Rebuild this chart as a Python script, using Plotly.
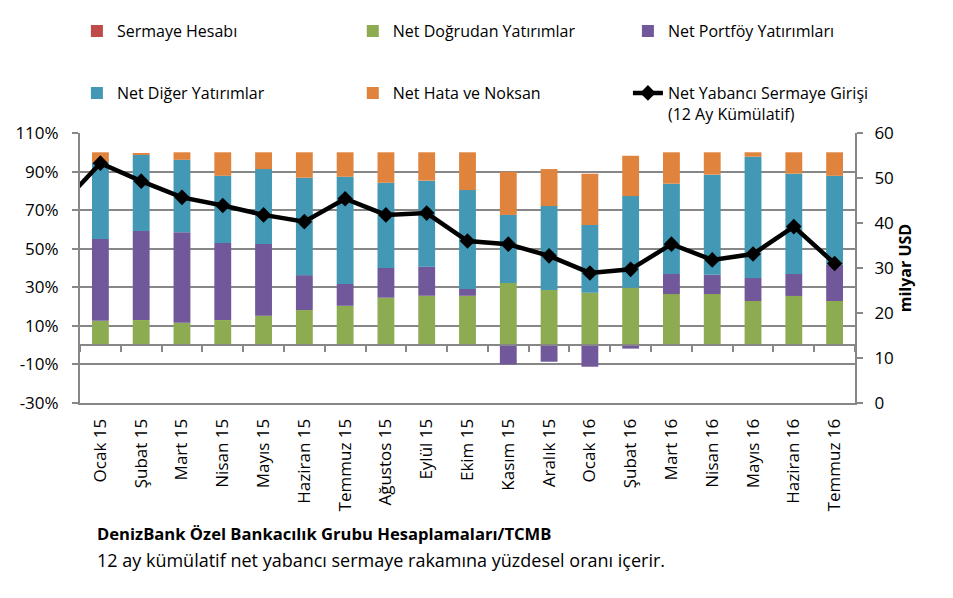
import plotly.graph_objects as go

# ---- data ----
categories = ["Ocak 15", "Şubat 15", "Mart 15", "Nisan 15", "Mayıs 15", "Haziran 15",
              "Temmuz 15", "Ağustos 15", "Eylül 15", "Ekim 15", "Kasım 15", "Aralık 15",
              "Ocak 16", "Şubat 16", "Mart 16", "Nisan 16", "Mayıs 16", "Haziran 16",
              "Temmuz 16"]
# stacked shares (%)
sermaye_hesabi = [0, 0, 0, 0, 0, 0, 0, 0, 0, 0, 0, 0, 0, 0, 0, 0, 0, 0, 0]
net_dogrudan = [12.6, 13.0, 11.6, 13.0, 15.3, 18.2, 20.4, 24.6, 25.6, 25.6,
                32.2, 28.6, 27.2, 29.8, 26.5, 26.5, 22.9, 25.5, 22.9]
net_portfoy = [42.4, 46.2, 47.0, 39.9, 37.1, 18.1, 11.3, 15.4, 15.1, 3.5,
               -10.0, -8.6, -11.2, -1.8, 10.4, 10.0, 11.9, 11.4, 18.8]
net_diger = [39.8, 39.4, 37.5, 34.9, 38.9, 50.5, 55.6, 44.2, 44.6, 51.3,
             35.3, 43.5, 35.1, 47.5, 46.8, 51.9, 62.9, 52.0, 46.1]
net_hata = [5.2, 1.0, 3.9, 12.2, 8.7, 13.2, 12.7, 15.8, 14.7, 19.6,
            22.4, 19.2, 26.6, 20.9, 16.3, 11.6, 2.3, 11.1, 12.2]
# 12 month cumulative net foreign capital inflow (billion USD)
net_giris = [53.3, 49.3, 45.7, 43.9, 41.8, 40.3, 45.4, 41.8, 42.2, 36.0,
             35.3, 32.7, 28.9, 29.7, 35.3, 31.8, 33.1, 39.2, 31.0]
# previous month (Aralık 14), only its segment entering the left edge is visible
net_giris_prev = 43.6

y_ticks = [-30, -10, 10, 30, 50, 70, 90, 110]
y_tick_text = ["-30%", "-10%", "10%", "30%", "50%", "70%", "90%", "110%"]
y2_ticks = [0, 10, 20, 30, 40, 50, 60]

FONT = "'Open Sans', Calibri, 'Liberation Sans', sans-serif"
GRID = "#878787"
C_RED = "#BE4B48"
C_GREEN = "#8DAB50"
C_PURPLE = "#71589A"
C_TEAL = "#4398B5"
C_ORANGE = "#E0843D"

idx = list(range(len(categories)))
n = len(categories)

fig = go.Figure()
bar_series = [
    ("Sermaye Hesabı", sermaye_hesabi, C_RED, "legend"),
    ("Net Doğrudan Yatırımlar", net_dogrudan, C_GREEN, "legend2"),
    ("Net Portföy Yatırımları", net_portfoy, C_PURPLE, "legend3"),
    ("Net Diğer Yatırımlar", net_diger, C_TEAL, "legend"),
    ("Net Hata ve Noksan", net_hata, C_ORANGE, "legend2"),
]
for name, vals, col, lg in bar_series:
    fig.add_trace(go.Bar(
        x=idx, y=vals, name=name, marker=dict(color=col, line=dict(width=0)),
        legend=lg, legendgroup=name, xaxis="x", yaxis="y",
    ))

fig.add_trace(go.Scatter(
    x=[-1] + idx, y=[net_giris_prev] + net_giris,
    name="Net Yabancı Sermaye Girişi<br>(12 Ay Kümülatif)",
    mode="lines+markers",
    line=dict(color="black", width=4.5),
    marker=dict(symbol="diamond", size=12, color="black"),
    xaxis="x2", yaxis="y2", legend="legend3", legendgroup="line",
))

zero_pos = (0 - y_ticks[0]) / (y_ticks[-1] - y_ticks[0])

legend_common = dict(
    orientation="v", traceorder="grouped", tracegroupgap=38, valign="top",
    font=dict(family=FONT, size=16, color="black"), bgcolor="rgba(0,0,0,0)",
    yanchor="top", xanchor="left", y=1.44, itemwidth=30,
)

# page body has an 8px margin, so the figure is 945x590 to fill the 953x598 window
fig.update_layout(
    width=945, height=590,
    margin=dict(l=72, r=98, t=125, b=195, autoexpand=False),
    paper_bgcolor="white", plot_bgcolor="white",
    font=dict(family=FONT, size=16, color="black"),
    barmode="relative", bargap=0.587,
    showlegend=True,
    legend=dict(x=-0.004, **legend_common),
    legend2=dict(x=0.352, **legend_common),
    legend3=dict(x=0.707, **legend_common),
    xaxis=dict(
        range=[-0.5, n - 0.5], tickvals=idx, ticktext=categories, tickangle=-90,
        ticks="", showgrid=False, zeroline=False, showline=True,
        linecolor=GRID, linewidth=2, ticklabelstandoff=7,
        tickfont=dict(family=FONT, size=17, color="black"),
    ),
    xaxis2=dict(
        overlaying="x", anchor="free", position=zero_pos, side="bottom",
        range=[-0.5, n - 0.5], tickvals=[i - 0.5 for i in range(n + 1)],
        ticks="outside", ticklen=6, tickwidth=2, tickcolor=GRID,
        showticklabels=False, showgrid=False, zeroline=False,
        showline=True, linecolor=GRID, linewidth=2,
    ),
    yaxis=dict(
        range=[y_ticks[0], y_ticks[-1]], tickvals=y_ticks, ticktext=y_tick_text,
        showgrid=True, gridcolor=GRID, gridwidth=2, zeroline=False,
        showline=True, linecolor=GRID, linewidth=2,
        ticks="outside", ticklen=6, tickwidth=2, tickcolor=GRID,
        ticklabelstandoff=10, tickfont=dict(family=FONT, size=17, color="black"),
    ),
    yaxis2=dict(
        overlaying="y", anchor="x", side="right",
        range=[y2_ticks[0], y2_ticks[-1]], tickvals=y2_ticks,
        showgrid=False, zeroline=False,
        showline=True, linecolor=GRID, linewidth=2,
        ticks="outside", ticklen=6, tickwidth=2, tickcolor=GRID,
        ticklabelstandoff=8, tickfont=dict(family=FONT, size=17, color="black"),
        title=dict(text="<b>milyar USD</b>", font=dict(family=FONT, size=16, color="black"),
                   standoff=4),
    ),
    annotations=[
        dict(text="<b>DenizBank Özel Bankacılık Grubu Hesaplamaları/TCMB</b>",
             xref="paper", yref="paper", x=0.019, y=-0.483, xanchor="left", yanchor="middle",
             showarrow=False, font=dict(family=FONT, size=16.6, color="black")),
        dict(text="12 ay kümülatif net yabancı sermaye rakamına yüzdesel oranı içerir.",
             xref="paper", yref="paper", x=0.019, y=-0.581, xanchor="left", yanchor="middle",
             showarrow=False, font=dict(family=FONT, size=18, color="black")),
    ],
)

fig.write_html("out.html")
